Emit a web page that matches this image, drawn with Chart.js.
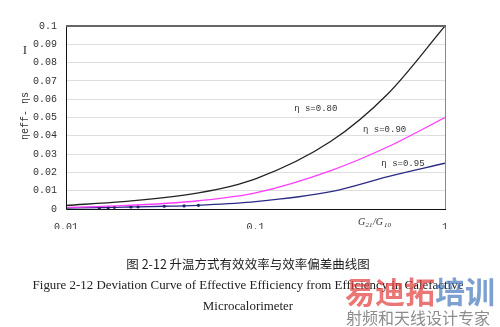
<!DOCTYPE html>
<html>
<head>
<meta charset="utf-8">
<script src="https://cdn.jsdelivr.net/npm/chart.js@4/dist/chart.umd.min.js"></script>
<style>
  body { margin: 0; background: #fff; }
  canvas { display: block; }
</style>
</head>
<body>
<canvas id="chartDev" width="500" height="327"></canvas>
<script>
// G21/G10 ratios and deviation values
var ratios = [0.01, 0.02, 0.05, 0.1, 0.25, 0.5, 1];
var dev080 = [0.002, 0.004, 0.0088, 0.0165, 0.037, 0.063, 0.1];
var dev090 = [0.0009, 0.0018, 0.0045, 0.0088, 0.021, 0.034, 0.05];
var ratios095 = [0.01, 0.015, 0.0167, 0.018, 0.022, 0.024, 0.033, 0.042, 0.05, 0.1, 0.25, 0.5, 1];
var dev095 = [0.0005, 0.0007, 0.0008, 0.0009, 0.0011, 0.0012, 0.0015, 0.0017, 0.002, 0.004, 0.0095, 0.0177, 0.025];

var xTicks = [0.01, 0.1, 1];
var xTickLabels = ['0.01', '0.1', '1'];
var yTicks = [0, 0.01, 0.02, 0.03, 0.04, 0.05, 0.06, 0.07, 0.08, 0.09, 0.1];
var yTickLabels = ['0', '0.01', '0.02', '0.03', '0.04', '0.05', '0.06', '0.07', '0.08', '0.09', '0.1'];

var curveNames = ['η s=0.80', 'η s=0.90', 'η s=0.95'];
var curveLabelX = [0.208, 0.48, 0.6];
var curveLabelY = [0.0546, 0.0432, 0.0246];

function pts(xs, ys) {
  return xs.map(function(x, i) { return { x: x, y: ys[i] }; });
}

var monoFont = { family: '"Liberation Mono", monospace', size: 10 };

var framePlugin = {
  id: 'frame',
  afterDatasetsDraw: function(chart) {
    var c = chart.ctx, a = chart.chartArea;
    c.save();
    c.lineWidth = 1;
    c.strokeStyle = '#888';
    c.beginPath(); c.moveTo(a.right + 0.5, a.top); c.lineTo(a.right + 0.5, a.bottom); c.stroke();
    c.strokeStyle = '#111';
    c.beginPath(); c.moveTo(a.left + 0.5, a.top); c.lineTo(a.left + 0.5, a.bottom + 0.5);
    c.lineTo(a.right + 1, a.bottom + 0.5); c.stroke();
    c.lineWidth = 2;
    c.strokeStyle = '#666';
    c.beginPath(); c.moveTo(a.left, a.top); c.lineTo(a.right + 1, a.top); c.stroke();
    c.restore();
  }
};

var textPlugin = {
  id: 'texts',
  afterDraw: function(chart) {
    var c = chart.ctx;
    var xs = chart.scales.x, ys = chart.scales.y;
    c.save();
    c.textBaseline = 'middle';
    c.textAlign = 'center';
    c.fillStyle = '#333';

    // curve names
    c.font = '9px "Liberation Mono", monospace';
    curveNames.forEach(function(t, i) {
      c.fillText(t, xs.getPixelForValue(curveLabelX[i]), ys.getPixelForValue(curveLabelY[i]));
    });

    // y axis title
    c.save();
    c.translate(25, 116);
    c.rotate(-Math.PI / 2);
    c.font = '10px "Liberation Mono", monospace';
    c.fillText('ηeff- ηs', 0, 0);
    c.restore();
    c.font = '13px "Liberation Serif", serif';
    c.fillText('I', 25, 51);

    // x axis title G21/G10
    c.textAlign = 'left';
    c.font = 'italic 10px "Liberation Serif", serif';
    var x0 = 358, y0 = 222;
    c.fillText('G', x0, y0);
    c.font = 'italic 7px "Liberation Serif", serif';
    c.fillText('21', x0 + 7.5, y0 + 3);
    c.font = 'italic 10px "Liberation Serif", serif';
    c.fillText('/G', x0 + 15, y0);
    c.font = 'italic 7px "Liberation Serif", serif';
    c.fillText('10', x0 + 26, y0 + 3);

    // captions
    c.textAlign = 'center';
    c.fillStyle = '#222';
    c.font = '12.5px "Noto Sans CJK SC", sans-serif';
    c.fillText('图 2-12 升温方式有效效率与效率偏差曲线图', 248, 264);
    var line1 = 'Figure 2-12 Deviation Curve of Effective Efficiency from Efficiency in Calefactive';
    c.font = '12px "Liberation Serif", serif';
    var w = c.measureText(line1).width;
    var size = 12 * 431 / w;
    c.font = size.toFixed(2) + 'px "Liberation Serif", serif';
    c.fillText(line1, 248, 286);
    c.fillText('Microcalorimeter', 248, 307);

    // site mark
    c.textAlign = 'left';
    c.font = 'bold 30px "Noto Sans CJK SC", sans-serif';
    c.fillStyle = 'rgba(226, 60, 60, 0.7)';
    c.fillText('易迪拓', 345, 292);
    c.fillStyle = 'rgba(70, 120, 190, 0.7)';
    c.fillText('培训', 435, 292);
    c.fillStyle = 'rgba(120, 120, 120, 0.85)';
    c.font = '16px "Noto Sans CJK SC", sans-serif';
    c.fillText('射频和天线设计专家', 346, 318);
    c.restore();
  }
};

var ctx = document.getElementById('chartDev').getContext('2d');
var chartDev = new Chart(ctx, {
  type: 'line',
  data: {
    datasets: [{
      label: curveNames[0],
      data: pts(ratios, dev080),
      borderColor: '#222',
      borderWidth: 1.3,
      pointRadius: 0
    }, {
      label: curveNames[1],
      data: pts(ratios, dev090),
      borderColor: '#ff3cff',
      borderWidth: 1.3,
      pointRadius: 0
    }, {
      label: curveNames[2],
      data: pts(ratios095, dev095),
      borderColor: '#2b2b86',
      backgroundColor: '#22226a',
      borderWidth: 1.3,
      pointRadius: ratios095.map(function(v) { return v > 0.01 && v <= 0.05 ? 1.6 : 0; }),
      pointBorderWidth: 0
    }]
  },
  options: {
    responsive: false,
    animation: false,
    cubicInterpolationMode: 'monotone',
    layout: { padding: { left: 0, top: 26, right: 55, bottom: 98 } },
    plugins: { legend: { display: false }, tooltip: { enabled: false } },
    scales: {
      x: {
        type: 'logarithmic',
        min: 0.01,
        max: 1,
        afterBuildTicks: function(s) { s.ticks = xTicks.map(function(v) { return { value: v }; }); },
        afterFit: function(s) { s.height = 20; },
        grid: { display: false, drawTicks: false },
        border: { display: false },
        ticks: {
          font: monoFont, color: '#333', padding: 12, maxRotation: 0,
          callback: function(v) { return xTickLabels[xTicks.indexOf(v)]; }
        }
      },
      y: {
        min: 0,
        max: 0.1,
        afterBuildTicks: function(s) { s.ticks = yTicks.map(function(v) { return { value: v }; }); },
        afterFit: function(s) { s.width = 66; },
        grid: { color: '#dedede', drawTicks: false },
        border: { display: false },
        ticks: {
          font: monoFont, color: '#333', padding: 9,
          callback: function(v, i) { return yTickLabels[i]; }
        }
      }
    }
  },
  plugins: [framePlugin, textPlugin]
});
</script>
</body>
</html>
